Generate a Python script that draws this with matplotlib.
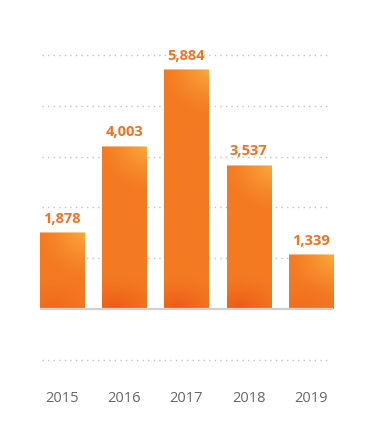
import numpy as np
import matplotlib
matplotlib.use("Agg")
import matplotlib.pyplot as plt

years = ["2015", "2016", "2017", "2018", "2019"]
values = [1878, 4003, 5884, 3537, 1339]
grid_levels = [-1250, 1250, 2500, 3750, 5000, 6250]

W, H = 373, 442
DPI = 100
fig = plt.figure(figsize=(W / DPI, H / DPI), dpi=DPI)
ax_left, ax_right, ax_top, ax_bot = 40, 333, 55, 360
ax = fig.add_axes([ax_left / W, (H - ax_bot) / H, (ax_right - ax_left) / W, (ax_bot - ax_top) / H])
bw = 0.707
ax.set_xlim(-bw / 2, 4 + bw / 2)
ax.set_ylim(-1250, 6250)
ax.axis("off")

# gridlines
for g in grid_levels:
    ax.axhline(g, xmin=0.007, xmax=0.993, color="#c2c2c2", lw=1.0, ls=(0, (1, 3)),
               zorder=0, clip_on=False)
ax.axhline(0, color="#d0d0d0", lw=1.6, zorder=3)

base = np.array([0xF4, 0x7A, 0x22]) / 255
hi = np.array([0xFC, 0xA8, 0x3C]) / 255
dark = np.array([0xEC, 0x5A, 0x18]) / 255

px_per_unit = (ax_bot - ax_top) / 7500.0
bar_px_w = 44
bars = ax.bar(range(len(values)), values, width=bw, color="none", edgecolor="none", zorder=2)
for i, (b, v) in enumerate(zip(bars, values)):
    hpx = int(round(v * px_per_unit))
    yy, xx = np.mgrid[0:hpx, 0:bar_px_w]  # yy=0 top
    d_hi = np.sqrt((xx - bar_px_w) ** 2 + (yy * 1.0) ** 2)
    a_hi = np.clip(1 - d_hi / 45.0, 0, 1) ** 1.3
    d_dk = np.sqrt((xx - 12) ** 2 + ((hpx - yy) * 1.4) ** 2)
    a_dk = np.clip(1 - d_dk / 50.0, 0, 1) ** 1.3 * min(1.0, hpx / 140.0)
    img = base[None, None, :] * np.ones((hpx, bar_px_w, 1))
    img = img * (1 - a_hi[..., None]) + hi[None, None, :] * a_hi[..., None]
    img = img * (1 - a_dk[..., None]) + dark[None, None, :] * a_dk[..., None]
    img[0, :, :] = img[0, :, :] * 0.55 + 0.45
    x0 = b.get_x()
    ax.imshow(img, extent=(x0, x0 + bw, 0, v), aspect="auto", zorder=2, interpolation="bilinear")
    ax.annotate(f"{v:,}", (b.get_x() + bw / 2, v), xytext=(0, 7), textcoords="offset pixels",
                ha="center", va="bottom", fontsize=10.5, fontweight="bold",
                color="#F37321", family="Open Sans")

ax.set_xlim(-bw / 2, 4 + bw / 2)
ax.set_ylim(-1250, 6250)

for i, y in enumerate(years):
    xc = ax_left + (bw / 2 + i) * (ax_right - ax_left) / (4 + bw)
    fig.text(xc / W, (H - 398) / H, y, ha="center", va="center", fontsize=10.5,
             color="#666666", family="Open Sans")

fig.savefig("out.png", dpi=DPI)
